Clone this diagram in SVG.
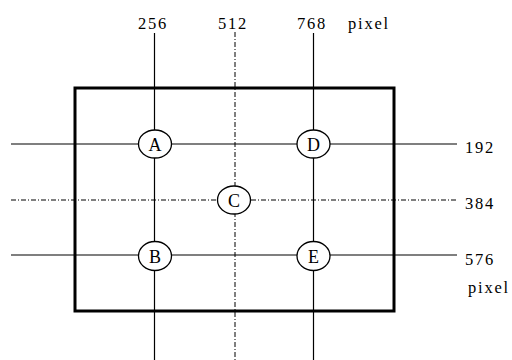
<svg xmlns="http://www.w3.org/2000/svg" width="512" height="360" viewBox="0 0 512 360">
<style>
.ln{stroke:#000;stroke-width:1.2;fill:none}
.dd{stroke:#000;stroke-width:1;fill:none;stroke-dasharray:5 2 1 2}
.nd{fill:#fff;stroke:#000;stroke-width:1.3}
.tx{font-family:'Liberation Serif','Times New Roman',serif;font-size:16.5px;letter-spacing:1.8px;fill:#000}
.lb{font-family:'Liberation Serif','Times New Roman',serif;font-size:18px;text-anchor:middle;fill:#000}
</style>
<rect width="512" height="360" fill="#fff"/>
<rect id="frame" x="75" y="88" width="319" height="223" fill="none" stroke="#000" stroke-width="3"/>
<g id="connectors">
<line class="ln" x1="154.5" y1="33" x2="154.5" y2="360"/>
<line class="ln" x1="313.5" y1="33" x2="313.5" y2="360"/>
<line class="dd" x1="235" y1="32" x2="235" y2="360"/>
<line class="ln" x1="11" y1="144" x2="457" y2="144"/>
<line class="dd" x1="11" y1="200" x2="457" y2="200"/>
<line class="ln" x1="11" y1="255" x2="457" y2="255"/>
</g>
<g id="A"><ellipse class="nd" cx="155" cy="144" rx="16.5" ry="14"/><text class="lb" x="155" y="150.5">A</text></g>
<g id="D"><ellipse class="nd" cx="313.5" cy="144" rx="16.5" ry="14"/><text class="lb" x="313.5" y="150.5">D</text></g>
<g id="C"><ellipse class="nd" cx="234" cy="200" rx="16.5" ry="14"/><text class="lb" x="234" y="206.5">C</text></g>
<g id="B"><ellipse class="nd" cx="155" cy="256" rx="16.5" ry="14.5"/><text class="lb" x="155" y="262.5">B</text></g>
<g id="E"><ellipse class="nd" cx="313.5" cy="256" rx="16.5" ry="14.5"/><text class="lb" x="313.5" y="262.5">E</text></g>
<g id="labels">
<text class="tx" x="138" y="29">256</text>
<text class="tx" x="218" y="29">512</text>
<text class="tx" x="297" y="29">768</text>
<text class="tx" x="348" y="29">pixel</text>
<text class="tx" x="465" y="153">192</text>
<text class="tx" x="465" y="209">384</text>
<text class="tx" x="465" y="265">576</text>
<text class="tx" x="468" y="293">pixel</text>
</g>
</svg>
